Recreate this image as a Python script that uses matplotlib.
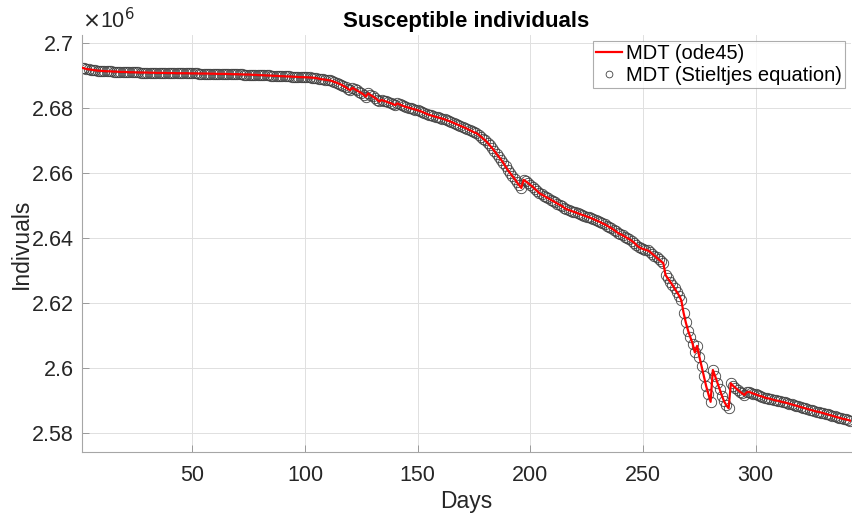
import numpy as np
import matplotlib
matplotlib.use('Agg')
import matplotlib.pyplot as plt
from matplotlib.ticker import FuncFormatter

plt.rcParams['font.family'] = ['Liberation Sans', 'DejaVu Sans']

# susceptible individuals: offset from 2.6e6, in thousands, one value per day
base = 2.6e6
S_off = [
    92.4, 92.2, 92.0, 91.9, 91.8, 91.7, 91.6, 91.5, 91.45, 91.4,
    91.35, 91.3, 91.3, 91.25, 91.2, 91.2, 91.15, 91.1, 91.1, 91.1,
    91.05, 91.0, 91.0, 91.0, 90.95, 90.95, 90.9, 90.9, 90.9, 90.9,
    90.85, 90.85, 90.85, 90.8, 90.8, 90.8, 90.8, 90.8, 90.75, 90.75,
    90.75, 90.75, 90.7, 90.7, 90.7, 90.7, 90.7, 90.7, 90.65, 90.65,
    90.65, 90.65, 90.6, 90.6, 90.6, 90.6, 90.6, 90.55, 90.55, 90.55,
    90.5, 90.5, 90.5, 90.5, 90.5, 90.45, 90.45, 90.4, 90.4, 90.4,
    90.35, 90.35, 90.3, 90.3, 90.3, 90.25, 90.2, 90.2, 90.15, 90.1,
    90.1, 90.05, 90.0, 90.0, 89.95, 89.9, 89.9, 89.85, 89.8, 89.8,
    89.75, 89.7, 89.7, 89.65, 89.6, 89.6, 89.55, 89.5, 89.5, 89.45,
    89.45, 89.4, 89.35, 89.3, 89.2, 89.05, 88.9, 88.8, 88.7, 88.6,
    88.5, 88.3, 88.0, 87.8, 87.5, 87.2, 86.8, 86.4, 85.9, 85.5,
    86.2, 85.8, 85.4, 85.0, 84.6, 84.1, 83.5, 84.5, 84.0, 83.6,
    83.1, 82.6, 82.0, 82.5, 82.2, 82.0, 81.7, 81.5, 81.2, 80.9,
    81.4, 81.1, 80.8, 80.5, 80.3, 80.1, 79.9, 79.7, 79.5, 79.3,
    79.1, 78.8, 78.5, 78.2, 77.9, 77.7, 77.5, 77.3, 77.1, 76.9,
    76.7, 76.5, 76.2, 76.0, 75.7, 75.4, 75.1, 74.8, 74.5, 74.2,
    73.9, 73.6, 73.2, 72.9, 72.5, 72.3, 71.8, 71.2, 70.6, 70.0,
    69.3, 68.5, 67.7, 66.8, 65.9, 65.0, 64.1, 63.1, 62.0, 60.9,
    60.0, 59.1, 58.2, 57.2, 56.3, 55.4, 57.9, 57.4, 56.9, 56.3,
    55.8, 55.1, 54.5, 53.8, 53.4, 53.0, 52.6, 52.2, 51.8, 51.4,
    51.0, 50.6, 50.2, 49.8, 49.3, 48.9, 48.6, 48.4, 48.1, 47.9,
    47.6, 47.4, 47.1, 46.9, 46.6, 46.4, 46.1, 45.8, 45.5, 45.2,
    44.9, 44.5, 44.2, 43.8, 43.4, 43.0, 42.5, 42.0, 41.5, 41.2,
    40.8, 40.4, 40.0, 39.6, 39.1, 38.6, 37.9, 37.3, 36.9, 36.6,
    36.4, 36.2, 35.8, 35.2, 34.6, 34.0, 33.4, 32.8, 32.3, 28.6,
    27.6, 26.6, 25.6, 24.5, 23.4, 22.3, 20.8, 17.0, 14.0, 11.5,
    9.5, 7.5, 4.8, 6.8, 3.5, 0.5, -2.5, -5.5, -8.0, -10.4,
    -0.6, -2.5, -4.5, -6.5, -8.5, -10.3, -11.5, -12.4, -4.7, -5.5,
    -6.1, -6.7, -7.3, -7.8, -8.3, -7.5, -7.3, -7.6, -7.9, -8.1,
    -8.4, -8.6, -8.8, -9.1, -9.3, -9.4, -9.6, -9.8, -10.0, -10.1,
    -10.3, -10.5, -10.6, -10.8, -11.0, -11.2, -11.4, -11.6, -11.8, -12.0,
    -12.2, -12.4, -12.6, -12.8, -13.0, -13.2, -13.4, -13.5, -13.7, -13.9,
    -14.1, -14.3, -14.5, -14.7, -14.9, -15.1, -15.3, -15.5, -15.7, -15.8,
    -16.0, -16.2,
]
days = np.arange(1, len(S_off) + 1)
S = base + 1e3 * np.array(S_off)

xticks = [50, 100, 150, 200, 250, 300]
yticks = [2.58, 2.60, 2.62, 2.64, 2.66, 2.68, 2.70]

fig = plt.figure(figsize=(8.52, 5.14), dpi=100)
ax = fig.add_axes([0.0962, 0.1206, 0.9026, 0.8113])

ax.plot(days, S / 1e6, 'o', mfc='none', mec='0.25', ms=7.5, mew=0.6,
        label='MDT (Stieltjes equation)', zorder=2)
ax.plot(days, S / 1e6, '-', color='#ff0000', lw=1.6, label='MDT (ode45)', zorder=3)

ax.set_xlim(1, 342.3)
ax.set_ylim(2.57415, 2.70246)
ax.set_xticks(xticks)
ax.set_yticks(yticks)
ax.yaxis.set_major_formatter(FuncFormatter(lambda v, p: '%g' % round(v, 4)))

ax.grid(True, color='0.88', lw=0.7)
ax.set_axisbelow(True)
for s in ['top', 'right']:
    ax.spines[s].set_visible(False)
for s in ['left', 'bottom']:
    ax.spines[s].set_color('0.65')
    ax.spines[s].set_linewidth(0.8)
ax.tick_params(direction='in', length=5, width=0.7, color='0.6',
               labelsize=15.5, labelcolor='#262626')
ax.tick_params(axis='x', pad=9)
ax.tick_params(axis='y', pad=6)

ax.set_xlabel('Days', fontsize=16.5, color='#262626', labelpad=3)
ax.set_ylabel('Indivuals', fontsize=16.5, color='#262626', labelpad=-1)
ax.set_title('Susceptible individuals', fontsize=16, fontweight='bold', pad=6)
ax.text(0.0, 1.005, r'$\times$10$^{6}$', transform=ax.transAxes, fontsize=15.5,
        color='#262626', ha='left', va='bottom')

h, l = ax.get_legend_handles_labels()
leg = ax.legend(h[::-1], l[::-1], loc='upper right', fontsize=14.5, frameon=True,
                fancybox=False, edgecolor='0.6', handlelength=1.3,
                handletextpad=0.2, borderpad=0.15, labelspacing=0.15,
                borderaxespad=0.3, markerscale=0.65)
leg.get_frame().set_linewidth(0.8)

fig.savefig('out.png', dpi=100)
